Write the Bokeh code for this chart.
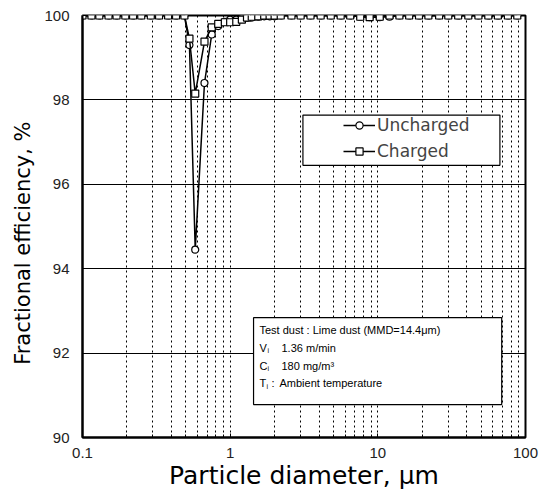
from bokeh.plotting import figure
from bokeh.models import (FixedTicker, CustomJSTickFormatter, BoxAnnotation, Label,
                          Legend, LegendItem)
from bokeh.embed import file_html
from bokeh.resources import INLINE

# ---- data ----
diam_uncharged = [0.10, 0.115, 0.13, 0.15, 0.17, 0.195, 0.22, 0.25, 0.29, 0.33, 0.38, 0.43, 0.49,
                  0.53, 0.58, 0.67, 0.75, 0.83, 0.92, 1.0, 1.1, 1.2, 1.3, 1.4, 1.55, 1.7, 1.85, 2.0,
                  2.2, 2.6, 3.0, 3.5, 4.1, 4.8, 5.6, 6.5, 7.6, 8.8, 10.3, 12, 14, 16.3, 19, 22, 26,
                  30, 35, 41, 48, 56, 65, 76, 88]
eff_uncharged = [100, 100, 100, 100, 100, 100, 100, 100, 100, 100, 100, 100, 100,
                 99.3, 94.45, 98.4, 99.55, 99.75, 99.85, 99.9, 99.9, 99.93, 99.95, 99.95, 99.97, 99.98, 99.98, 99.98,
                 100, 100, 100, 100, 100, 100, 100, 100, 99.97, 99.96, 99.96, 99.97, 100, 100, 100, 100, 100,
                 100, 100, 100, 100, 100, 100, 100, 100]
diam_charged = diam_uncharged
eff_charged = [100, 100, 100, 100, 100, 100, 100, 100, 100, 100, 100, 100, 100,
               99.45, 98.15, 99.38, 99.72, 99.8, 99.84, 99.84, 99.85, 99.9, 99.95, 99.97, 99.98, 100, 100, 100,
               100, 100, 100, 100, 100, 100, 100, 100, 99.97, 99.96, 99.97, 100, 100, 100, 100, 100, 100,
               100, 100, 100, 100, 100, 100, 100, 100]
x_major = [0.1, 1, 10, 100]
y_ticks = [90, 92, 94, 96, 98, 100]

FONT = "Liberation Sans"
WIDE = "DejaVu Sans"

p = figure(width=546, height=492, x_axis_type="log", x_range=(0.1, 100), y_range=(90, 100),
           output_backend="svg", toolbar_location=None,
           min_border_left=82, min_border_right=21, min_border_top=15, min_border_bottom=55)
p.outline_line_color = "black"
p.outline_line_width = 2

minor = [k * m for m in (0.1, 1, 10) for k in range(2, 10)]
p.xaxis.ticker = FixedTicker(ticks=x_major, minor_ticks=minor)
p.xaxis.formatter = CustomJSTickFormatter(code="return tick.toString();")
p.yaxis.ticker = FixedTicker(ticks=y_ticks)

for ax in (p.xaxis[0], p.yaxis[0]):
    ax.axis_line_color = "black"
    ax.axis_line_width = 2
    ax.major_tick_in = 4
    ax.major_tick_out = 0
    ax.minor_tick_in = 3
    ax.minor_tick_out = 0
    ax.major_label_text_font = FONT
    ax.major_label_text_font_size = "15px"
    ax.major_label_text_color = "#222222"
    ax.axis_label_text_font = WIDE
    ax.axis_label_text_font_style = "normal"
    ax.axis_label_text_color = "black"
p.yaxis.minor_tick_in = 0
p.xaxis.major_label_standoff = 10
p.yaxis.major_label_standoff = 13
p.xaxis.axis_label = "Particle diameter, μm"
p.xaxis.axis_label_text_font_size = "25px"
p.xaxis.axis_label_standoff = 0
p.yaxis.axis_label = "Fractional efficiency, %" + "\u00a0" * 5
p.yaxis.axis_label_text_font_size = "21px"
p.yaxis.axis_label_standoff = 6

p.xgrid.grid_line_color = "black"
p.xgrid.grid_line_dash = "2 3"
p.xgrid.minor_grid_line_color = "black"
p.xgrid.minor_grid_line_dash = "2 3"
p.ygrid.grid_line_color = "black"
p.ygrid.grid_line_width = 1

lu = p.line(diam_uncharged, eff_uncharged, line_color="black", line_width=1.5)
su = p.scatter(diam_uncharged, eff_uncharged, marker="circle", size=7,
               line_color="black", fill_color="white", line_width=1.2)
lc = p.line(diam_charged, eff_charged, line_color="black", line_width=1.5)
sc = p.scatter(diam_charged, eff_charged, marker="square", size=7,
               line_color="black", fill_color="white", line_width=1.2)

# legend box
p.add_layout(BoxAnnotation(left=3.11, right=67.1, bottom=96.45, top=97.64,
                           fill_color="white", fill_alpha=1, line_color="black",
                           line_width=1.2, line_alpha=1))
legend = Legend(items=[LegendItem(label="Uncharged", renderers=[lu, su]),
                       LegendItem(label="Charged", renderers=[lc, sc])],
                location=(261, 276), label_text_font=WIDE, label_text_font_size="17px",
                glyph_width=32, glyph_height=18, spacing=6, padding=0, margin=0,
                label_standoff=2, border_line_alpha=0, background_fill_alpha=0)
p.add_layout(legend)

# info box
p.add_layout(BoxAnnotation(left=1.44, right=69.0, bottom=90.78, top=92.84,
                           fill_color="white", fill_alpha=1, line_color="black",
                           line_width=1.2, line_alpha=1))
tx = 1.58
rows = [92.55, 92.13, 91.70, 91.28]
def lab(text, y, xo=0, yo=0, size="11px"):
    p.add_layout(Label(x=tx, y=y, x_offset=xo, y_offset=yo, text=text,
                       text_font=FONT, text_font_size=size, text_baseline="middle",
                       text_color="black"))
lab("Test dust : Lime dust (MMD=14.4μm)", rows[0])
lab("V", rows[1]); lab("i", rows[1], xo=8, yo=-3, size="7px"); lab("1.36 m/min", rows[1], xo=22)
lab("C", rows[2]); lab("i", rows[2], xo=8, yo=-3, size="7px"); lab("180 mg/m³", rows[2], xo=22)
lab("T", rows[3]); lab("i", rows[3], xo=7, yo=-3, size="7px"); lab(":", rows[3], xo=12); lab("Ambient temperature", rows[3], xo=20)

open("out.html", "w").write(file_html(p, INLINE))
